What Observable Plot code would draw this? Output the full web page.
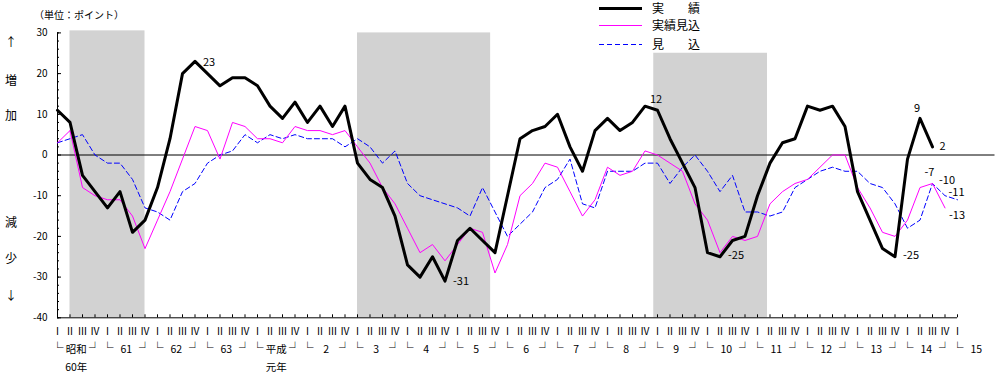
<!DOCTYPE html>
<html lang="ja"><head><meta charset="utf-8">
<script src="https://cdn.jsdelivr.net/npm/d3@7"></script>
<script src="https://cdn.jsdelivr.net/npm/@observablehq/plot@0.6"></script>
<style>
html,body{margin:0;padding:0;background:#fff;}
#wrap{position:relative;width:995px;height:374px;overflow:hidden;font-family:"Noto Sans CJK JP",sans-serif;color:#000;}
#wrap > svg{display:block;}
.ov{position:absolute;white-space:pre;line-height:1;}
</style></head><body>
<div id="wrap"></div>
<script>
// ---- data (quarterly, 昭和60年Ⅰ期 = index 0) ----
const jisseki = [11,8,-5,-9,-13,-9,-19,-16,-8,4,
  20,23,20,17,19,19,17,12,9,13,
  8,12,7,12,-2,-6,-8,-15,-27,-30,
  -25,-31,-21,-18,-21,-24,-10,4,6,7,
  10,2,-4,6,9,6,8,12,11,4,
  -2,-8,-24,-25,-21,-20,-10,-2,3,4,
  12,11,12,7,-9,-16,-23,-25,-1,9,
  2];
const jissekiMikomi = [3,6,-8,-10,-11,-11,-15,-23,-16,-9,
  -1,7,6,-1,8,7,4,4,3,7,
  6,6,5,6,2,-2,-8,-12,-18,-24,
  -22,-26,-22,-18,-19,-29,-22,-10,-7,-2,
  -3,-9,-15,-11,-3,-5,-4,1,0,-2,
  -4,-12,-16,-24,-20,-21,-20,-12,-9,-7,
  -6,-3,0,0,-8,-13,-19,-20,-16,-8,
  -7,-13];
const mikomi = [3,4,5,0,-2,-2,-6,-13,-14,-16,
  -9,-7,-2,0,1,5,3,5,4,5,
  4,4,4,2,4,2,-2,1,-7,-10,
  -11,-12,-13,-15,-8,-14,-20,-17,-14,-8,
  -6,-1,-12,-13,-4,-4,-4,-2,-2,-7,
  -3,0,-4,-9,-5,-14,-14,-15,-14,-8,
  -6,-4,-3,-4,-4,-7,-8,-12,-18,-16,
  -7,-10,-11];
const quarterLabels = ["Ⅰ","Ⅱ","Ⅲ","Ⅳ"];
const yearLabels = ["昭和","61","62","63","平成","2","3","4","5","6","7","8","9","10","11","12","13","14","15"];
const eraFirstYears = [{year:0,label:"60年"},{year:4,label:"元年"}];
const recessionStart = [1,24,47.7];
const recessionEnd = [7,34.65,56.8];
const recessionTop = [30.5,30,25];
const seriesNames = ["実　　績","実績見込","見　　込"];
const yTicks = d3.range(-40,31,10);
const yMinorTicks = d3.range(-40,31,2);
const unitLabel = "（単位：ポイント）";
const sideLabels = ["↑","増","加","減","少","↓"];

// ---- layout ----
const W = 995, H = 374;
const mL = 57, mR = 0.5, mT = 32.4, mB = 56.7;
const frameW = W - mL - mR, frameH = H - mT - mB;
const nQ = 73;
const quarters = d3.range(nQ);
const shades = recessionStart.map((s,k)=>({s, e:recessionEnd[k], t:recessionTop[k]}));
const years = yearLabels.map((label,k)=>({k, label, start:4*k, end:Math.min(4*k+3, nQ-1)}));

const ann = [
  {s:jisseki,i:11,dx:8,dy:1,a:"start"},
  {s:jisseki,i:31,dx:8,dy:0,a:"start"},
  {s:jisseki,i:47,dx:5,dy:-7,a:"start"},
  {s:jisseki,i:53,dx:8,dy:-1,a:"start"},
  {s:jisseki,i:67,dx:8,dy:-1,a:"start"},
  {s:jisseki,i:69,dx:-3,dy:-10,a:"middle"},
  {s:jisseki,i:70,dx:7,dy:0,a:"start"},
  {s:jissekiMikomi,i:70,dx:-3,dy:-11,a:"middle"},
  {s:mikomi,i:71,dx:-6,dy:-15,a:"start"},
  {s:mikomi,i:72,dx:-9,dy:-7,a:"start"},
  {s:jissekiMikomi,i:71,dx:4,dy:8,a:"start"}
];

const plot = Plot.plot({
  width: W, height: H,
  marginLeft: mL, marginRight: mR, marginTop: mT, marginBottom: mB,
  x: {domain: [0, 75], axis: null, label: null},
  y: {domain: [-40, 30], axis: null, label: null},
  style: {fontFamily: "'Noto Sans CJK JP', sans-serif", fontSize: "10px", background: "#fff", color: "#000", overflow: "visible"},
  marks: [
    Plot.rect(shades, {x1: "s", x2: "e", y1: -40, y2: "t", fill: "url(#dither)"}),
    Plot.ruleY([0], {x1: 0, x2: 75, stroke: "#000", strokeWidth: 1}),
    Plot.ruleX([0], {y1: -40, y2: 30, stroke: "#000"}),
    Plot.ruleY([-40], {x1: 0, x2: nQ - 1, stroke: "#000"}),
    Plot.tickY(yMinorTicks, {y: d => d, insetRight: frameW - 2, stroke: "#000"}),
    Plot.tickY(yTicks, {y: d => d, insetRight: frameW - 4, stroke: "#000"}),
    Plot.tickX(quarters, {x: d => d, insetTop: frameH - 3, stroke: "#000"}),
    Plot.axisY(yTicks, {label: null, tickSize: 0, tickPadding: 10, fontSize: 10, tickFormat: d => String(d)}),
    Plot.axisX(quarters, {label: null, tickSize: 0, tickPadding: 10, fontSize: 10, tickFormat: i => quarterLabels[i % 4]}),
    Plot.text(years, {x: "start", text: () => "└", frameAnchor: "bottom", dy: 31, lineAnchor: "middle", fontSize: 12}),
    Plot.text(years.filter(d => d.end > d.start), {x: "end", text: () => "┘", frameAnchor: "bottom", dy: 31, lineAnchor: "middle", fontSize: 12}),
    Plot.text(years, {x: d => d.start + 1.5, text: "label", frameAnchor: "bottom", dy: 32, lineAnchor: "middle", fontSize: 10.5}),
    Plot.text(eraFirstYears, {x: d => 4 * d.year + 1.5, text: "label", frameAnchor: "bottom", dy: 50, lineAnchor: "middle", fontSize: 10.5}),
    Plot.lineY(mikomi, {x: (d, i) => i, y: d => d, stroke: "#0000ff", strokeWidth: 1, strokeDasharray: "5,3"}),
    Plot.lineY(jissekiMikomi, {x: (d, i) => i, y: d => d, stroke: "#ff00ff", strokeWidth: 1}),
    Plot.lineY(jisseki, {x: (d, i) => i, y: d => d, stroke: "#000", strokeWidth: 3, strokeLinejoin: "round"}),
    ...ann.map(o => Plot.text([o.i], {x: d => d, y: d => o.s[d], text: d => String(o.s[d]), dx: o.dx, dy: o.dy, textAnchor: o.a, lineAnchor: "middle", fontSize: 11}))
  ]
});

// dither pattern for the shaded periods
const ns = "http://www.w3.org/2000/svg";
const defs = document.createElementNS(ns, "defs");
defs.innerHTML = '<pattern id="dither" x="-0.5" y="-0.5" width="2" height="2" patternUnits="userSpaceOnUse"><rect width="2" height="2" fill="#ffffff"/><rect width="1" height="1" fill="#a4a4a4"/><rect x="1" y="1" width="1" height="1" fill="#a4a4a4"/></pattern>';
plot.insertBefore(defs, plot.firstChild);

const wrap = document.getElementById("wrap");
wrap.appendChild(plot);

// overlay: unit, side labels, legend
function addText(txt, left, top, size, extra) {
  const d = document.createElement("div");
  d.className = "ov";
  d.textContent = txt;
  d.style.left = left + "px";
  d.style.top = top + "px";
  d.style.fontSize = size + "px";
  if (extra) Object.assign(d.style, extra);
  wrap.appendChild(d);
  return d;
}
addText(unitLabel, 34, 10, 10);
const sideY = [42, 80, 115, 222, 258, 295];
sideLabels.forEach((t, k) => addText(t, 5, sideY[k] - 6, 12, {width: "12px", textAlign: "center"}));

const leg = document.createElementNS(ns, "svg");
leg.setAttribute("width", 120); leg.setAttribute("height", 52);
leg.style.position = "absolute"; leg.style.left = "595px"; leg.style.top = "0px";
const legStyles = [
  {stroke: "#000000", w: 3, dash: "none"},
  {stroke: "#ff00ff", w: 1, dash: "none"},
  {stroke: "#0000ff", w: 1, dash: "5,3"}
];
const legY = [8.5, 25.5, 44.5];
seriesNames.forEach((name, k) => {
  const l = document.createElementNS(ns, "line");
  l.setAttribute("x1", 4); l.setAttribute("x2", 47);
  l.setAttribute("y1", legY[k]); l.setAttribute("y2", legY[k]);
  l.setAttribute("style", `stroke:${legStyles[k].stroke};stroke-width:${legStyles[k].w}px;stroke-dasharray:${legStyles[k].dash}`);
  leg.appendChild(l);
  const t = document.createElementNS(ns, "text");
  t.setAttribute("x", 57); t.setAttribute("y", legY[k]);
  t.setAttribute("dy", "0.36em");
  t.setAttribute("font-size", 12);
  t.setAttribute("font-family", "'Noto Sans CJK JP', sans-serif");
  t.textContent = name;
  leg.appendChild(t);
});
wrap.appendChild(leg);
</script>
</body></html>
